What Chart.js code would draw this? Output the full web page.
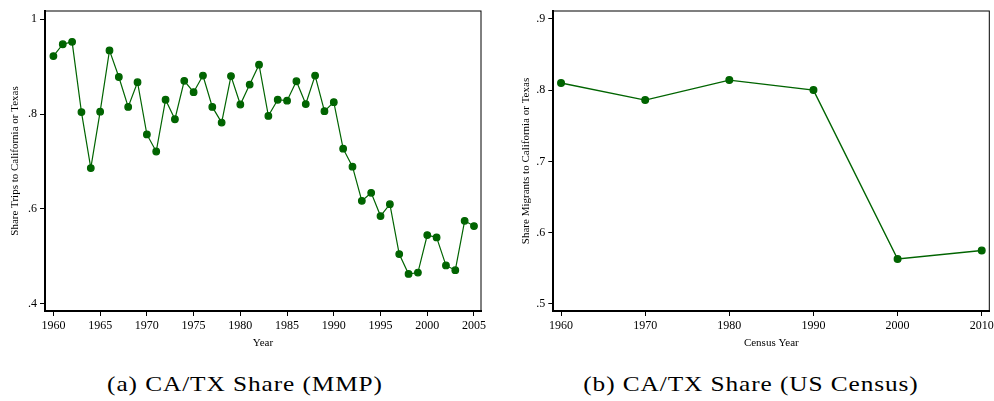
<!DOCTYPE html>
<html>
<head>
<meta charset="utf-8">
<script src="https://cdn.jsdelivr.net/npm/chart.js@4"></script>
<style>
  body { margin: 0; width: 994px; height: 401px; overflow: hidden; background: #fff; position: relative; }
  .box { position: absolute; top: 0; height: 350px; }
  #boxA { left: 0; width: 497px; }
  #boxB { left: 497px; width: 520px; }
  .caption { position: absolute; top: 371px; font-family: "Liberation Serif", serif; font-size: 22px;
             letter-spacing: 0.8px; transform: translateX(-50%) scaleX(1.15); white-space: nowrap; color: #000; }
</style>
</head>
<body>
<div class="box" id="boxA"><canvas id="mmpChart"></canvas></div>
<div class="box" id="boxB"><canvas id="censusChart"></canvas></div>
<div class="caption" style="left:245px">(a) CA/TX Share (MMP)</div>
<div class="caption" style="left:751px">(b) CA/TX Share (US Census)</div>
<script>
// Panel (a): MMP trips
const mmpYears = [1960, 1961, 1962, 1963, 1964, 1965, 1966, 1967, 1968, 1969,
  1970, 1971, 1972, 1973, 1974, 1975, 1976, 1977, 1978, 1979,
  1980, 1981, 1982, 1983, 1984, 1985, 1986, 1987, 1988, 1989,
  1990, 1991, 1992, 1993, 1994, 1995, 1996, 1997, 1998, 1999,
  2000, 2001, 2002, 2003, 2004, 2005];
const mmpShare = [0.922, 0.947, 0.952, 0.804, 0.686, 0.805, 0.934, 0.878, 0.815, 0.867,
  0.757, 0.721, 0.830, 0.789, 0.870, 0.846, 0.881, 0.815, 0.782, 0.880,
  0.820, 0.862, 0.904, 0.796, 0.830, 0.828, 0.869, 0.821, 0.881, 0.806,
  0.825, 0.727, 0.689, 0.617, 0.634, 0.585, 0.610, 0.505, 0.463, 0.466,
  0.545, 0.540, 0.481, 0.471, 0.575, 0.564];
const mmpXTicks = [1960, 1965, 1970, 1975, 1980, 1985, 1990, 1995, 2000, 2005];
const mmpYTicks = [0.4, 0.6, 0.8, 1];

// Panel (b): US Census
const censusYears = [1960, 1970, 1980, 1990, 2000, 2010];
const censusShare = [0.810, 0.786, 0.814, 0.800, 0.563, 0.575];
const censusXTicks = [1960, 1970, 1980, 1990, 2000, 2010];
const censusYTicks = [0.5, 0.6, 0.7, 0.8, 0.9];

const green = '#006400';
const serif = '"Liberation Serif", "Times New Roman", serif';

function tickLabel(v) {
  if (v === 1) return '1';
  return String(+v.toFixed(1)).replace(/^0/, '');
}

// plot region outline (top/right edges)
const framePlugin = {
  id: 'frame',
  afterDraw(chart) {
    const { ctx, chartArea: a } = chart;
    ctx.save();
    ctx.strokeStyle = '#000';
    ctx.lineWidth = 1;
    ctx.strokeRect(a.left, a.top, a.right - a.left, a.bottom - a.top);
    ctx.restore();
  }
};

function makeChart(id, xs, ys, cfg) {
  const ctx = document.getElementById(id).getContext('2d');
  return new Chart(ctx, {
    type: 'line',
    data: {
      datasets: [{
        data: xs.map((x, i) => ({ x: x, y: ys[i] })),
        borderColor: green,
        backgroundColor: green,
        pointBackgroundColor: green,
        pointBorderColor: green,
        pointRadius: 3.3,
        borderWidth: cfg.lineWidth,
        tension: 0,
        fill: false
      }]
    },
    options: {
      responsive: true,
      maintainAspectRatio: false,
      animation: false,
      layout: { padding: { top: 11, right: cfg.rightPad, left: 0, bottom: 0 } },
      plugins: { legend: { display: false }, tooltip: { enabled: false } },
      scales: {
        x: {
          type: 'linear',
          min: cfg.xMin,
          max: cfg.xMax,
          afterBuildTicks: s => { s.ticks = cfg.xTicks.map(v => ({ value: v })); },
          afterFit: s => { s.height = 39; },
          ticks: { color: '#000', font: { family: serif, size: 12 }, padding: 3,
                   maxRotation: 0, autoSkip: false, callback: v => String(v) },
          grid: { display: true, drawOnChartArea: false, drawTicks: true, tickLength: 5, color: '#000' },
          border: { display: true, color: '#000', width: 2 },
          title: { display: true, text: cfg.xTitle, color: '#000',
                   font: { family: serif, size: 11 }, padding: { top: 4, bottom: 0 } }
        },
        y: {
          type: 'linear',
          min: cfg.yMin,
          max: cfg.yMax,
          afterBuildTicks: s => { s.ticks = cfg.yTicks.map(v => ({ value: v })); },
          afterFit: s => { s.width = cfg.yWidth; },
          ticks: { color: '#000', font: { family: serif, size: 12 }, padding: 3,
                   callback: v => tickLabel(v) },
          grid: { display: true, drawOnChartArea: false, drawTicks: true, tickLength: 5, color: '#000' },
          border: { display: true, color: '#000', width: 2 },
          title: { display: true, text: cfg.yTitle, color: '#000',
                   font: { family: serif, size: 11 }, padding: { top: cfg.yTitlePad, bottom: 0 } }
        }
      }
    },
    plugins: [framePlugin]
  });
}

makeChart('mmpChart', mmpYears, mmpShare, {
  xMin: 1959.1, xMax: 2005.75, yMin: 0.385, yMax: 1.017,
  xTicks: mmpXTicks, yTicks: mmpYTicks,
  xTitle: 'Year', yTitle: 'Share Trips to California or Texas',
  yWidth: 45, yTitlePad: 8.4, rightPad: 16, lineWidth: 1.2
});

makeChart('censusChart', censusYears, censusShare, {
  xMin: 1959.08, xMax: 2010.9, yMin: 0.49, yMax: 0.911,
  xTicks: censusXTicks, yTicks: censusYTicks,
  xTitle: 'Census Year', yTitle: 'Share Migrants to California or Texas',
  yWidth: 56.3, yTitlePad: 23, rightPad: 27.7, lineWidth: 1.4
});
</script>
</body>
</html>
